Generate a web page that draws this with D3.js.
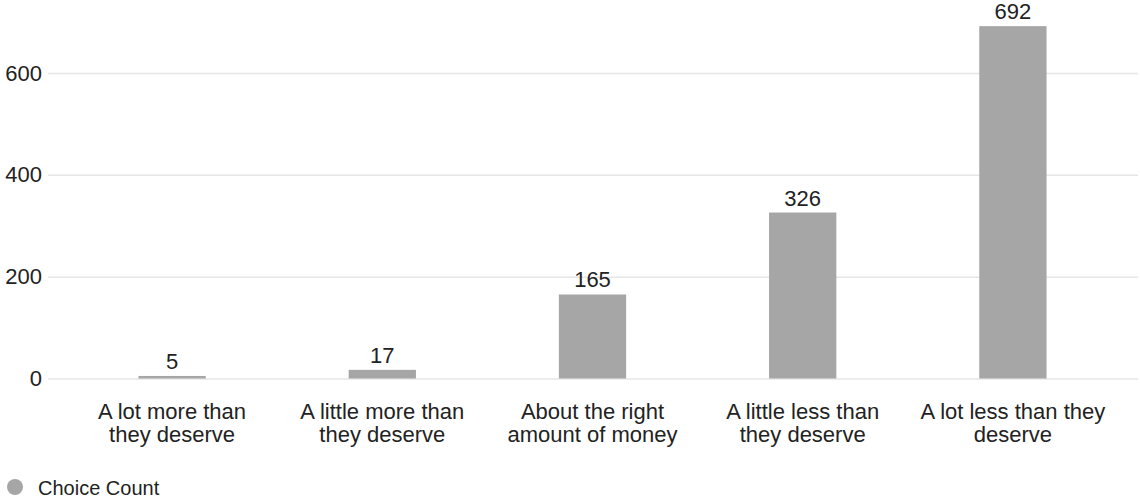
<!DOCTYPE html>
<html>
<head>
<meta charset="utf-8">
<script src="https://cdn.jsdelivr.net/npm/d3@7/dist/d3.min.js"></script>
<style>
  html, body { margin: 0; padding: 0; background: #fff; }
  svg { display: block; font-family: "Liberation Sans", Arial, Helvetica, sans-serif; }
</style>
</head>
<body>
<svg id="chart" width="1140" height="500"></svg>
<script>
// Responses to the question, counts per answer
const categories = [
  ["A lot more than", "they deserve"],
  ["A little more than", "they deserve"],
  ["About the right", "amount of money"],
  ["A little less than", "they deserve"],
  ["A lot less than they", "deserve"]
];
const counts = [5, 17, 165, 326, 692];
const yTicks = [0, 200, 400, 600];
const seriesName = "Choice Count";

const svg = d3.select("#chart");
const barColor = "#a6a6a6";
const textColor = "#222";
const fontSize = 22;

const gridLeft = 48, gridRight = 1138;
const y = d3.scaleLinear().domain([0, 600]).range([378.5, 73]);
const x = d3.scaleBand()
  .domain(d3.range(categories.length))
  .range([67, 1118])
  .paddingInner(0.68)
  .paddingOuter(0.34);

// Horizontal gridlines with tick labels on the left
const yAxis = d3.axisLeft(y).tickValues(yTicks).tickSize(-(gridRight - gridLeft)).tickPadding(7);
const gy = svg.append("g").attr("transform", `translate(${gridLeft},0)`).call(yAxis);
gy.select(".domain").remove();
gy.selectAll(".tick line").attr("stroke", "#e6e6e6").attr("stroke-width", 1.5);
gy.selectAll(".tick text")
  .attr("fill", textColor)
  .attr("font-size", fontSize)
  .attr("x", -6);

// Bars
svg.append("g").selectAll("rect")
  .data(counts)
  .join("rect")
  .attr("x", (d, i) => x(i))
  .attr("width", x.bandwidth())
  .attr("y", d => y(d))
  .attr("height", d => y(0) - y(d))
  .attr("fill", barColor);

// Value labels above bars
svg.append("g").selectAll("text")
  .data(counts)
  .join("text")
  .attr("x", (d, i) => x(i) + x.bandwidth() / 2)
  .attr("y", d => y(d) - 7)
  .attr("text-anchor", "middle")
  .attr("font-size", fontSize)
  .attr("fill", textColor)
  .text(d => d);

// Two-line category labels
const xl = svg.append("g").selectAll("text")
  .data(categories)
  .join("text")
  .attr("x", (d, i) => x(i) + x.bandwidth() / 2)
  .attr("y", 419)
  .attr("text-anchor", "middle")
  .attr("font-size", fontSize)
  .attr("fill", textColor);
xl.selectAll("tspan")
  .data(d => d)
  .join("tspan")
  .attr("x", function () { return this.parentNode.getAttribute("x"); })
  .attr("dy", (d, j) => j === 0 ? 0 : 23)
  .text(d => d);

// Legend
const lg = svg.append("g");
lg.append("circle").attr("cx", 15).attr("cy", 487).attr("r", 8).attr("fill", barColor);
lg.append("text").attr("x", 38).attr("y", 495).attr("font-size", 20).attr("fill", textColor).text(seriesName);
</script>
</body>
</html>
